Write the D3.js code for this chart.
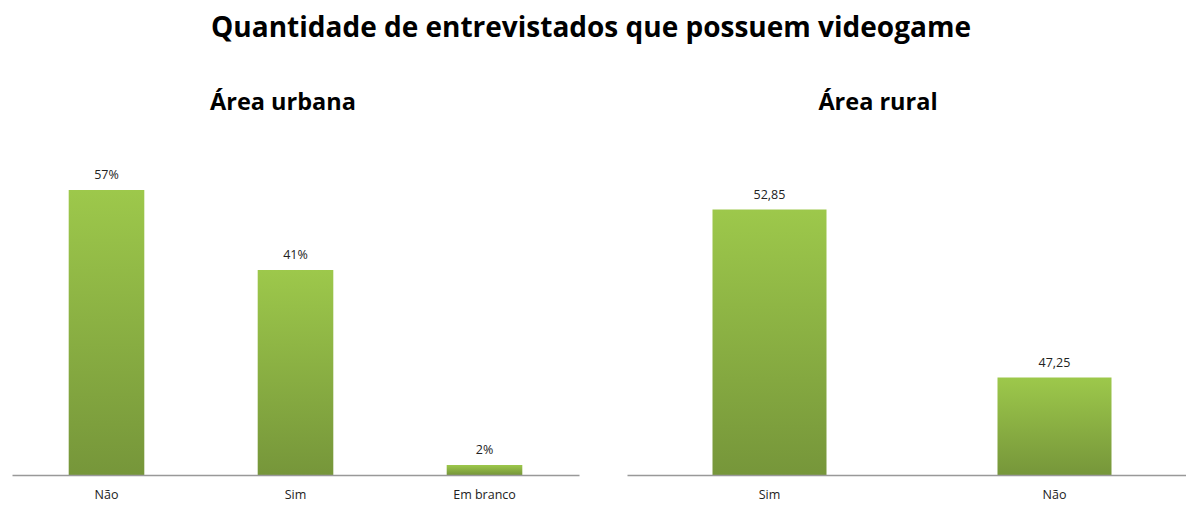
<!DOCTYPE html>
<html>
<head>
<meta charset="utf-8">
<script src="https://cdn.jsdelivr.net/npm/d3@7"></script>
<style>
  body { margin: 0; background: #fff; }
  svg { display: block; }
</style>
</head>
<body>
<svg id="chart" width="1186" height="505"></svg>
<script>
const title = "Quantidade de entrevistados que possuem videogame";

const urbanTitle = "Área urbana";
const urbanCategories = ["Não", "Sim", "Em branco"];
const urbanValues = [57, 41, 2];
const urbanLabels = ["57%", "41%", "2%"];

const ruralTitle = "Área rural";
const ruralCategories = ["Sim", "Não"];
const ruralValues = [52.85, 47.25];
const ruralLabels = ["52,85", "47,25"];

const W = 1186, H = 505;
const svg = d3.select("#chart");
const fontFam = "'Open Sans', 'DejaVu Sans', sans-serif";

const defs = svg.append("defs");
const grad = defs.append("linearGradient").attr("id", "barGrad")
  .attr("x1", 0).attr("y1", 0).attr("x2", 0).attr("y2", 1);
grad.append("stop").attr("offset", "0%").attr("stop-color", "#9dc84b");
grad.append("stop").attr("offset", "100%").attr("stop-color", "#76963a");

svg.append("rect").attr("width", W).attr("height", H).attr("fill", "#fff");

svg.append("text")
  .attr("x", 591).attr("y", 37)
  .attr("text-anchor", "middle")
  .attr("font-family", fontFam)
  .attr("font-weight", "bold")
  .attr("font-size", 28)
  .attr("fill", "#000")
  .text(title);

function panel(opts) {
  const g = svg.append("g");
  const x = d3.scaleBand().domain(opts.categories).range(opts.xRange)
    .paddingInner(0.6).paddingOuter(0.3);
  const y = d3.scaleLinear().domain(opts.yDomain).range([475, 175]);

  g.append("text")
    .attr("x", opts.titleX).attr("y", 110)
    .attr("text-anchor", "middle")
    .attr("font-family", fontFam)
    .attr("font-weight", "bold")
    .attr("font-size", 23.5)
    .attr("fill", "#000")
    .text(opts.title);

  g.selectAll("rect.bar").data(opts.values).join("rect")
    .attr("class", "bar")
    .attr("x", (d, i) => x(opts.categories[i]))
    .attr("width", x.bandwidth())
    .attr("y", d => y(d))
    .attr("height", d => y(opts.yDomain[0]) - y(d))
    .attr("fill", "url(#barGrad)");

  g.selectAll("text.val").data(opts.values).join("text")
    .attr("class", "val")
    .attr("x", (d, i) => x(opts.categories[i]) + x.bandwidth() / 2)
    .attr("y", d => y(d) - 11)
    .attr("text-anchor", "middle")
    .attr("font-family", fontFam)
    .attr("font-size", 12.5)
    .attr("fill", "#222")
    .text((d, i) => opts.labels[i]);

  const axis = d3.axisBottom(x).tickSize(0).tickPadding(15);
  const ag = g.append("g").attr("transform", "translate(0,475)").call(axis);
  ag.select(".domain").attr("stroke", "#999").attr("stroke-width", 1.5);
  ag.selectAll("text")
    .attr("font-family", fontFam)
    .attr("font-size", 12.5)
    .attr("fill", "#222");
}

panel({
  title: urbanTitle, titleX: 283,
  categories: urbanCategories, values: urbanValues, labels: urbanLabels,
  xRange: [12, 579], yDomain: [0, 60]
});

panel({
  title: ruralTitle, titleX: 878,
  categories: ruralCategories, values: ruralValues, labels: ruralLabels,
  xRange: [627, 1197], yDomain: [44, 54]
});
</script>
</body>
</html>
